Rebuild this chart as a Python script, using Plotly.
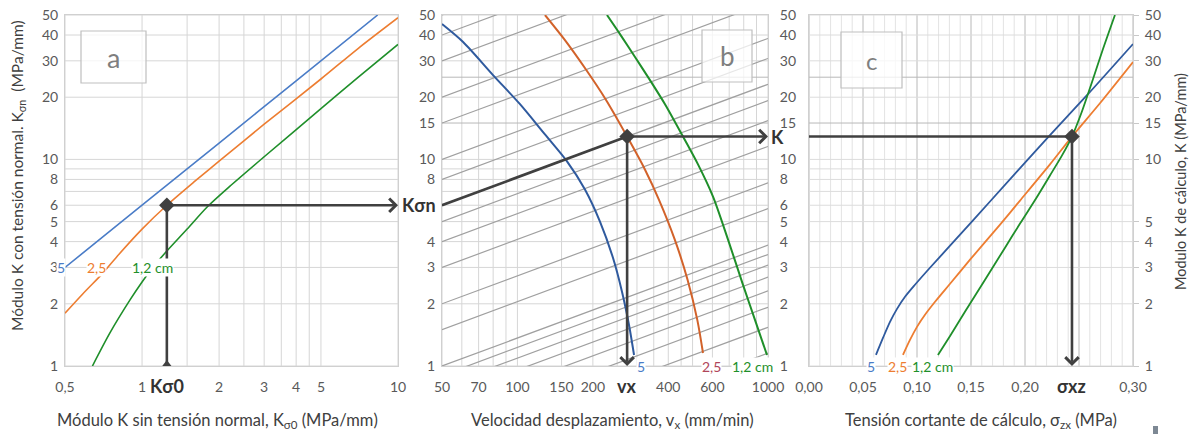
import numpy as np
import plotly.graph_objects as go

W, H = 1192, 434

# ---- Panel a: K sin tension normal (K_sigma0) -> K con tension normal (K_sigman)
a_blue_x = [0.5, 1, 2, 4, 8.33]
a_blue_y = [3.0, 6.0, 12.0, 24.0, 50]
a_orange_x = [0.5, 0.6, 0.7, 0.8, 1.0, 1.25, 1.6, 2, 3, 5, 7, 10]
a_orange_y = [1.8, 2.3, 2.8, 3.4, 4.6, 6.0, 7.8, 9.8, 14.8, 24.5, 34.5, 48.5]
a_green_x = [0.64, 0.75, 0.9, 1.0, 1.1, 1.25, 1.5, 1.8, 2.2, 3, 5, 7, 10]
a_green_y = [1.0, 1.45, 2.1, 2.55, 3.0, 3.6, 4.6, 5.9, 7.4, 10.3, 17.6, 25, 36]

# ---- Panel b: velocidad de desplazamiento -> K
b_blue_v = [50, 60.7, 79.9, 102.4, 128.8, 157.7, 186, 213.5, 240.6, 261.4, 278.8, 292]
b_blue_k = [45.2, 37.0, 25.6, 18.5, 13.2, 9.78, 7.15, 5.0, 3.34, 2.29, 1.58, 1.13]
b_orange_v = [128.8, 153.7, 187.4, 224.8, 274, 322.7, 366.9, 424.6, 477.5, 522.2, 550.3]
b_orange_k = [50, 38.2, 27.3, 19.56, 12.9, 8.94, 6.39, 4.09, 2.615, 1.672, 1.156]
b_green_v = [227.7, 256.6, 294.6, 338.1, 388.1, 457.9, 525.6, 603.3, 692.6, 794.8, 895.6, 990.7]
b_green_k = [50, 40.4, 31.3, 24.2, 18.5, 12.9, 9.46, 6.61, 4.09, 2.47, 1.617, 1.13]

# construction lines of panel b: K = c * (v / 50) ** slope
b_diag_c = [0.3, 0.4, 0.5, 0.6, 0.7, 0.8, 0.9, 1, 1.5, 2, 3, 4, 5, 6, 8, 10, 15, 20, 30, 40, 50]
b_diag_slope = 0.45

# ---- Panel c: tension cortante -> K de calculo
c_blue_s = [0.0620, 0.0685, 0.0750, 0.0815, 0.0889, 0.0981, 0.1120, 0.1306, 0.1676,
            0.2204, 0.2574, 0.3000]
c_blue_k = [1.131, 1.367, 1.635, 1.891, 2.163, 2.473, 2.99, 3.824, 6.254, 12.65, 20.45, 36.2]
c_orange_s = [0.0870, 0.0935, 0.1000, 0.1074, 0.1167, 0.1306, 0.1491, 0.1769, 0.1954,
              0.2231, 0.2435, 0.2694, 0.3000]
c_orange_k = [1.131, 1.337, 1.546, 1.769, 2.045, 2.5, 3.27, 4.836, 6.32, 9.46, 12.9, 18.7, 29.6]
c_green_s = [0.1194, 0.1306, 0.1444, 0.1630, 0.1815, 0.1954, 0.2102, 0.2231, 0.2343,
             0.2435, 0.2528, 0.2620, 0.2722, 0.2833]
c_green_k = [1.131, 1.398, 1.829, 2.615, 3.74, 4.89, 6.47, 8.36, 10.46, 12.9, 17.1, 23.65,
             34.2, 50]

# ---- worked example
k_sigma0 = 1.25
k_sigman = 6.0
v_x = 274
k_calc = 12.9
sigma_xz = 0.2435

# ---- grids and ticks
a_grid_x = [0.5, 1, 1.5, 2, 2.5, 3, 3.5, 4, 4.5, 5, 10]
a_grid_y = [1, 2, 3, 4, 5, 6, 7, 8, 9, 10, 20, 30, 40, 50]
b_grid_x = [50, 60, 70, 80, 90, 100, 150, 200, 250, 300, 350, 400, 450, 500,
            600, 700, 800, 900, 1000]
bc_grid_y = [1, 2, 3, 4, 5, 6, 7, 8, 9, 10, 20, 30, 40, 50]
bc_grid_y_dark = [15, 25]
c_grid_x = [i / 100 for i in range(31)]
c_grid_x_dark = [0, 0.05, 0.10, 0.15, 0.20, 0.25, 0.30]

a_xticks = [0.5, 1, 2, 3, 4, 5, 10]
a_xtext = ["0,5", "1", "2", "3", "4", "5", "10"]
a_yticks = [1, 2, 3, 4, 5, 6, 8, 10, 20, 30, 40, 50]
b_xticks = [50, 70, 100, 150, 200, 400, 600, 1000]
b_yticks_left = [1, 2, 3, 4, 8, 10, 15, 20, 30, 40, 50]
b_yticks_right = [1, 2, 3, 4, 5, 6, 8, 10, 15, 20, 30, 40, 50]
c_xticks = [0, 0.05, 0.10, 0.15, 0.20, 0.30]
c_xtext = ["0,00", "0,05", "0,10", "0,15", "0,20", "0,30"]
c_yticks = [1, 2, 3, 4, 5, 10, 15, 20, 30, 40, 50]

BLUE_A, BLUE_B = "#4a7cc7", "#2f5a9e"
ORANGE_A, ORANGE_B = "#ed7d31", "#d2622a"
GREEN = "#1f8f2a"
DARK = "#404040"
GRID = "#d6d6d6"
GRID_DARK = "#b8b8b8"
DIAG = "#a0a0a0"
FONT = "Lato"

K_MIN, K_MAX = 1, 50


def grid_trace(vals, axis, lo, hi, xa, ya, color, width=1):
    xs, ys = [], []
    for v in vals:
        if axis == "x":
            xs += [v, v, None]
            ys += [lo, hi, None]
        else:
            xs += [lo, hi, None]
            ys += [v, v, None]
    return go.Scatter(x=xs, y=ys, mode="lines", xaxis=xa, yaxis=ya,
                      line=dict(color=color, width=width),
                      hoverinfo="skip", showlegend=False)


def curve(x, y, color, xa, ya, width=2):
    return go.Scatter(x=x, y=y, mode="lines", xaxis=xa, yaxis=ya,
                      line=dict(color=color, width=width, shape="spline", smoothing=0.8),
                      hoverinfo="skip", showlegend=False)


fig = go.Figure()

# panel a grid
fig.add_trace(grid_trace(a_grid_x, "x", K_MIN, K_MAX, "x", "y", GRID))
fig.add_trace(grid_trace(a_grid_y, "y", 0.5, 10, "x", "y", GRID))
# panel b grid
fig.add_trace(grid_trace(b_grid_x, "x", K_MIN, K_MAX, "x2", "y2", GRID))
fig.add_trace(grid_trace(bc_grid_y, "y", 50, 1000, "x2", "y2", GRID))
fig.add_trace(grid_trace(bc_grid_y_dark, "y", 50, 1000, "x2", "y2", GRID_DARK))
# panel c grid
fig.add_trace(grid_trace(c_grid_x, "x", K_MIN, K_MAX, "x3", "y3", "#e3e3e3"))
fig.add_trace(grid_trace(c_grid_x_dark, "x", K_MIN, K_MAX, "x3", "y3", "#c6c6c6"))
fig.add_trace(grid_trace(bc_grid_y, "y", 0, 0.3, "x3", "y3", "#dcdcdc"))
fig.add_trace(grid_trace(bc_grid_y_dark, "y", 0, 0.3, "x3", "y3", GRID_DARK))

# panel b construction lines
dx, dy = [], []
for c in b_diag_c:
    dx += [50, 1000, None]
    dy += [c, c * (1000 / 50) ** b_diag_slope, None]
fig.add_trace(go.Scatter(x=dx, y=dy, mode="lines", xaxis="x2", yaxis="y2",
                         line=dict(color=DIAG, width=1.2), hoverinfo="skip",
                         showlegend=False))

# curves
fig.add_trace(curve(a_blue_x, a_blue_y, BLUE_A, "x", "y", 1.6))
fig.add_trace(curve(a_orange_x, a_orange_y, ORANGE_A, "x", "y", 1.6))
fig.add_trace(curve(a_green_x, a_green_y, GREEN, "x", "y", 1.6))
fig.add_trace(curve(b_blue_v, b_blue_k, BLUE_B, "x2", "y2"))
fig.add_trace(curve(b_orange_v, b_orange_k, ORANGE_B, "x2", "y2"))
fig.add_trace(curve(b_green_v, b_green_k, GREEN, "x2", "y2"))
fig.add_trace(curve(c_blue_s, c_blue_k, BLUE_B, "x3", "y3", 1.8))
fig.add_trace(curve(c_orange_s, c_orange_k, ORANGE_A, "x3", "y3", 1.8))
fig.add_trace(curve(c_green_s, c_green_k, GREEN, "x3", "y3", 1.8))

# worked example: plain segments
seg = dict(color=DARK, width=2.6)
fig.add_trace(go.Scatter(x=[k_sigma0, k_sigma0], y=[K_MIN, k_sigman], mode="lines",
                         xaxis="x", yaxis="y", line=seg, hoverinfo="skip", showlegend=False))
fig.add_trace(go.Scatter(x=[50, v_x], y=[k_sigman, k_calc], mode="lines",
                         xaxis="x2", yaxis="y2", line=seg, hoverinfo="skip", showlegend=False))
fig.add_trace(go.Scatter(x=[0, sigma_xz], y=[k_calc, k_calc], mode="lines",
                         xaxis="x3", yaxis="y3", line=seg, hoverinfo="skip", showlegend=False))

# markers
mk = dict(color=DARK, size=12, symbol="diamond")
fig.add_trace(go.Scatter(x=[k_sigma0], y=[k_sigman], mode="markers", xaxis="x", yaxis="y",
                         marker=mk, hoverinfo="skip", showlegend=False))
fig.add_trace(go.Scatter(x=[k_sigma0], y=[K_MIN], mode="markers", xaxis="x", yaxis="y",
                         marker=dict(color=DARK, size=12, symbol="triangle-up"),
                         hoverinfo="skip", showlegend=False))
fig.add_trace(go.Scatter(x=[v_x], y=[k_calc], mode="markers", xaxis="x2", yaxis="y2",
                         marker=mk, hoverinfo="skip", showlegend=False))
fig.add_trace(go.Scatter(x=[sigma_xz], y=[k_calc], mode="markers", xaxis="x3", yaxis="y3",
                         marker=mk, hoverinfo="skip", showlegend=False))
# keeps the right-hand K scale of panel b alive
fig.add_trace(go.Scatter(x=[50], y=[1], mode="markers", xaxis="x2", yaxis="y4",
                         marker=dict(opacity=0), hoverinfo="skip", showlegend=False))


def xd(p0, p1):
    return [p0 / W, p1 / W]


def yd(top, bottom):
    return [1 - bottom / H, 1 - top / H]


tickfont = dict(family=FONT, size=14, color="#595959")
common = dict(showgrid=False, zeroline=False, ticks="", tickfont=tickfont,
              showline=True, linecolor="#d0d0d0", linewidth=1, mirror=True,
              fixedrange=True, automargin=False)
ydom = yd(15, 366)
yrange = [np.log10(K_MIN), np.log10(K_MAX)]

fig.update_layout(
    template="none",
    width=W, height=H, margin=dict(l=0, r=0, t=0, b=0, pad=0, autoexpand=False),
    paper_bgcolor="white", plot_bgcolor="white",
    font=dict(family=FONT, color=DARK),
    showlegend=False,
    xaxis=dict(common, type="log", domain=xd(65, 398), anchor="y",
               range=[np.log10(0.5), 1], tickvals=a_xticks, ticktext=a_xtext,
               ticklabelstandoff=8),
    yaxis=dict(common, type="log", domain=ydom, anchor="x", range=yrange,
               tickvals=a_yticks, ticktext=[str(v) for v in a_yticks],
               ticklabelstandoff=3),
    xaxis2=dict(common, type="log", domain=xd(442, 768), anchor="y2",
                range=[np.log10(50), 3], tickvals=b_xticks,
                ticktext=[str(v) for v in b_xticks], ticklabelstandoff=8),
    yaxis2=dict(common, type="log", domain=ydom, anchor="x2", range=yrange,
                tickvals=b_yticks_left, ticktext=[str(v) for v in b_yticks_left],
                ticklabelstandoff=3),
    yaxis4=dict(common, type="log", overlaying="y2", anchor="x2", side="right",
                range=yrange, tickvals=b_yticks_right,
                ticktext=[str(v) for v in b_yticks_right], ticklabelstandoff=8),
    xaxis3=dict(common, type="linear", domain=xd(809, 1133), anchor="y3",
                range=[0, 0.3], tickvals=c_xticks, ticktext=c_xtext,
                ticklabelstandoff=8),
    yaxis3=dict(common, type="log", domain=ydom, anchor="x3", side="right",
                range=yrange, tickvals=c_yticks, ticktext=[str(v) for v in c_yticks],
                ticks="outside", ticklen=5, tickcolor="#c8c8c8", ticklabelstandoff=3),
)

ann = []
arrow = dict(showarrow=True, arrowhead=4, arrowsize=1.0, arrowwidth=2.6,
             arrowcolor=DARK, text="", standoff=0)
lg = np.log10
ann.append(dict(arrow, xref="x", yref="y", axref="x", ayref="y",
                x=lg(10), y=lg(k_sigman), ax=lg(k_sigma0), ay=lg(k_sigman)))
ann.append(dict(arrow, xref="x2", yref="y2", axref="x2", ayref="y2",
                x=lg(v_x), y=lg(K_MIN), ax=lg(v_x), ay=lg(k_calc)))
ann.append(dict(arrow, xref="x2", yref="y2", axref="x2", ayref="y2",
                x=lg(1000), y=lg(k_calc), ax=lg(v_x), ay=lg(k_calc)))
ann.append(dict(arrow, xref="x3", yref="y3", axref="x3", ayref="y3",
                x=sigma_xz, y=lg(K_MIN), ax=sigma_xz, ay=lg(k_calc)))

center = dict(showarrow=False, xanchor="center", yanchor="middle")
bold = dict(family=FONT, size=18, color="#333333")
ann.append(dict(center, text="<b>Kσ0</b>", xref="x", yref="paper", x=lg(k_sigma0),
                y=1 - 386 / H, font=bold))
ann.append(dict(center, text="<b>vx</b>", xref="x2", yref="paper", x=lg(v_x),
                y=1 - 386 / H, font=bold))
ann.append(dict(center, text="<b>σxz</b>", xref="x3", yref="paper", x=sigma_xz,
                y=1 - 386 / H, font=bold))
ann.append(dict(center, text="<b>Kσn</b>", xref="paper", yref="y2", x=400 / W,
                y=lg(k_sigman), xanchor="left", font=bold, bgcolor="white"))
ann.append(dict(center, text="<b>K</b>", xref="paper", yref="y2", x=769 / W,
                y=lg(k_calc), xanchor="left", font=bold))

# curve labels (thickness of the layer, cm)


def clab(text, px, yref, yval, color):
    return dict(center, text=text, xref="paper", yref=yref, x=px / W, y=lg(yval),
                bgcolor="white", borderpad=0,
                font=dict(family=FONT, size=14, color=color))


ann += [clab("5", 61, "y", 3, BLUE_A), clab("2,5", 97, "y", 3, ORANGE_A),
        clab("1,2 cm", 152, "y", 3, GREEN)]
ann += [clab("5", 641, "y2", 1, BLUE_A), clab("2,5", 711, "y2", 1, "#b0455a"),
        clab("1,2 cm", 752, "y2", 1, GREEN)]
ann += [clab("5", 871, "y3", 1, BLUE_A), clab("2,5", 897, "y3", 1, ORANGE_A),
        clab("1,2 cm", 932, "y3", 1, GREEN)]

# axis titles
tfont = dict(family=FONT, size=16.5, color=DARK)
ann.append(dict(center, text="Módulo K sin tensión normal, K<sub>σ0</sub> (MPa/mm)",
                xref="paper", yref="paper", x=217 / W, y=1 - 420 / H, font=tfont))
ann.append(dict(center, text="Velocidad desplazamiento, v<sub>x</sub> (mm/min)",
                xref="paper", yref="paper", x=612 / W, y=1 - 420 / H, font=tfont))
ann.append(dict(center, text="Tensión cortante de cálculo, σ<sub>zx</sub> (MPa)",
                xref="paper", yref="paper", x=981 / W, y=1 - 420 / H, font=tfont))
ann.append(dict(center, text="Módulo K con tensión normal. K<sub>σn</sub>  (MPa/mm)",
                xref="paper", yref="paper", x=18 / W, y=1 - 176 / H,
                textangle=-90, font=dict(tfont, size=15.5)))
ann.append(dict(center, text="Modulo K de cálculo, K (MPa/mm)",
                xref="paper", yref="paper", x=1180 / W, y=1 - 182 / H,
                textangle=-90, font=dict(tfont, size=14.5)))

# panel letters in boxes
shapes = []
for letter, (x0, y0, x1, y1), size in [("a", (81, 31, 146, 83), 27),
                                       ("b", (702, 30, 752, 82), 26),
                                       ("c", (841, 32, 902, 88), 24)]:
    shapes.append(dict(type="rect", xref="paper", yref="paper",
                       x0=x0 / W, x1=x1 / W, y0=1 - y1 / H, y1=1 - y0 / H,
                       line=dict(color="#bfbfbf", width=1.2),
                       fillcolor="rgba(255,255,255,0.75)", layer="above"))
    ann.append(dict(center, text=letter, xref="paper", yref="paper",
                    x=(x0 + x1) / 2 / W, y=1 - (y0 + y1) / 2 / H,
                    font=dict(family=FONT, size=size, color="#7f7f7f")))

shapes.append(dict(type="rect", xref="paper", yref="paper",
                   x0=1153 / W, x1=1158 / W, y0=0, y1=8 / H,
                   line=dict(width=0), fillcolor="#7d8894"))

fig.update_layout(annotations=ann, shapes=shapes)
fig.write_html("out.html")
